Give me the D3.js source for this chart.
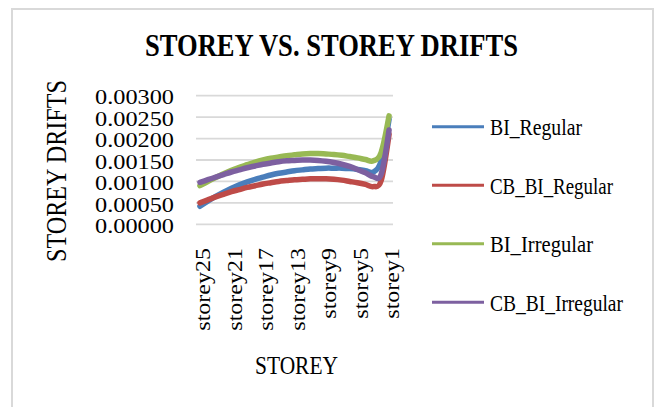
<!DOCTYPE html>
<html>
<head>
<meta charset="utf-8">
<script src="https://cdn.jsdelivr.net/npm/d3@7"></script>
<style>
  body { margin: 0; background: #fff; }
  text { font-family: "Liberation Serif", "Times New Roman", serif; fill: #000; }
</style>
</head>
<body>
<svg id="chart" width="659" height="407"></svg>
<script>
// storeys, top (25) down to ground (1)
var storeys = d3.range(25, 0, -1).map(function (n) { return "storey" + n; });
var shownStoreys = ["storey25", "storey21", "storey17", "storey13", "storey9", "storey5", "storey1"];
var yTicks = [0, 0.0005, 0.001, 0.0015, 0.002, 0.0025, 0.003];

var biRegular = [0.00042, 0.00054, 0.00065, 0.00075, 0.00084, 0.00092, 0.00099, 0.00105, 0.00110, 0.00115,
  0.00119, 0.00122, 0.00125, 0.00127, 0.00129, 0.00130, 0.00131, 0.00131, 0.00131, 0.00130,
  0.00128, 0.00125, 0.00122, 0.00148, 0.00245];
var cbBiRegular = [0.00050, 0.00057, 0.00064, 0.00070, 0.00076, 0.00081, 0.00086, 0.00090, 0.00094, 0.00097,
  0.00100, 0.00102, 0.00104, 0.00105, 0.00106, 0.00106, 0.00106, 0.00105, 0.00103, 0.00100,
  0.00097, 0.00093, 0.00088, 0.00102, 0.00210];
var biIrregular = [0.00090, 0.00100, 0.00109, 0.00118, 0.00126, 0.00133, 0.00139, 0.00145, 0.00150, 0.00154,
  0.00157, 0.00160, 0.00162, 0.00164, 0.00165, 0.00165, 0.00164, 0.00163, 0.00161, 0.00158,
  0.00155, 0.00151, 0.00148, 0.00168, 0.00253];
var cbBiIrregular = [0.00098, 0.00104, 0.00110, 0.00116, 0.00122, 0.00127, 0.00132, 0.00136, 0.00140, 0.00143,
  0.00146, 0.00148, 0.00149, 0.00150, 0.00150, 0.00149, 0.00147, 0.00144, 0.00140, 0.00135,
  0.00128, 0.00120, 0.00111, 0.00117, 0.00220];

var seriesNames = ["BI_Regular", "CB_BI_Regular", "BI_Irregular", "CB_BI_Irregular"];
var seriesValues = [biRegular, cbBiRegular, biIrregular, cbBiIrregular];
var colors = ["#4a7ebb", "#be4b48", "#98b954", "#7d60a0"];

var svg = d3.select("#chart");

// squeeze / stretch a text node to a given length
function fitTo(sel, len) {
  sel.attr("textLength", len).attr("lengthAdjust", "spacingAndGlyphs");
}
function stretch(sel, k) {
  sel.each(function () {
    var w = this.getComputedTextLength();
    d3.select(this).attr("textLength", w * k).attr("lengthAdjust", "spacingAndGlyphs");
  });
}

// outer frame
svg.append("rect")
  .attr("x", 12).attr("y", 9)
  .attr("width", 641).attr("height", 430)
  .attr("fill", "none")
  .attr("stroke", "#d9d9d9")
  .attr("stroke-width", 2);

var x = d3.scalePoint().domain(storeys).range([196, 393]).padding(0.5);
var y = d3.scaleLinear().domain([0, 0.003]).range([224.3, 95.7]);

// gridlines
svg.append("g")
  .selectAll("line")
  .data(yTicks)
  .enter()
  .append("line")
  .attr("x1", 196).attr("x2", 393)
  .attr("y1", function (d) { return y(d); })
  .attr("y2", function (d) { return y(d); })
  .attr("stroke", "#d9d9d9")
  .attr("stroke-width", 1.8);

// y tick labels
var yAxis = d3.axisLeft(y).tickValues(yTicks).tickFormat(d3.format(".5f")).tickSize(0).tickPadding(0);
var gy = svg.append("g").attr("transform", "translate(174,0)").call(yAxis);
gy.select(".domain").remove();
gy.selectAll("text")
  .attr("font-family", "Liberation Serif")
  .attr("font-size", 20.5)
  .attr("dy", "0.4em")
  .call(fitTo, 79);

// x tick labels
var xAxis = d3.axisBottom(x).tickValues(shownStoreys).tickSize(0).tickPadding(0);
var gx = svg.append("g").attr("transform", "translate(0,248)").call(xAxis);
gx.select(".domain").remove();
gx.selectAll("text")
  .attr("font-family", "Liberation Serif")
  .attr("font-size", 20)
  .attr("transform", "rotate(-90)")
  .attr("text-anchor", "end")
  .attr("x", 0)
  .attr("y", 3)
  .attr("dy", "0.33em")
  .call(stretch, 1.2);

// lines
var line = d3.line()
  .x(function (d, i) { return x(storeys[i]); })
  .y(function (d) { return y(d); })
  .curve(d3.curveCardinal.tension(0));

svg.append("g")
  .selectAll("path")
  .data(seriesValues)
  .enter()
  .append("path")
  .attr("d", line)
  .attr("fill", "none")
  .attr("stroke", function (d, i) { return colors[i]; })
  .attr("stroke-width", 5.5)
  .attr("stroke-linejoin", "round")
  .attr("stroke-linecap", "round");

// title
svg.append("text")
  .attr("x", 331.5).attr("y", 56)
  .attr("text-anchor", "middle")
  .attr("font-size", 32)
  .attr("font-weight", "bold")
  .text("STOREY VS. STOREY DRIFTS")
  .call(fitTo, 373);

// axis titles
svg.append("text")
  .attr("transform", "translate(66,171) rotate(-90)")
  .attr("text-anchor", "middle")
  .attr("font-size", 29)
  .text("STOREY DRIFTS")
  .call(fitTo, 182);

svg.append("text")
  .attr("x", 296.5).attr("y", 374)
  .attr("text-anchor", "middle")
  .attr("font-size", 25)
  .text("STOREY")
  .call(fitTo, 83);

// legend
var legendLen = [92, 123, 103, 133];
var legend = svg.append("g")
  .selectAll("g")
  .data(seriesNames)
  .enter()
  .append("g")
  .attr("transform", function (d, i) { return "translate(432," + (126.7 + i * 58.5) + ")"; });

legend.append("line")
  .attr("x1", 0).attr("x2", 52)
  .attr("stroke", function (d, i) { return colors[i]; })
  .attr("stroke-width", 3);

legend.append("text")
  .attr("x", 58)
  .attr("dy", "0.35em")
  .attr("font-size", 24)
  .text(function (d) { return d; })
  .each(function (d, i) { d3.select(this).call(fitTo, legendLen[i]); });
</script>
</body>
</html>
